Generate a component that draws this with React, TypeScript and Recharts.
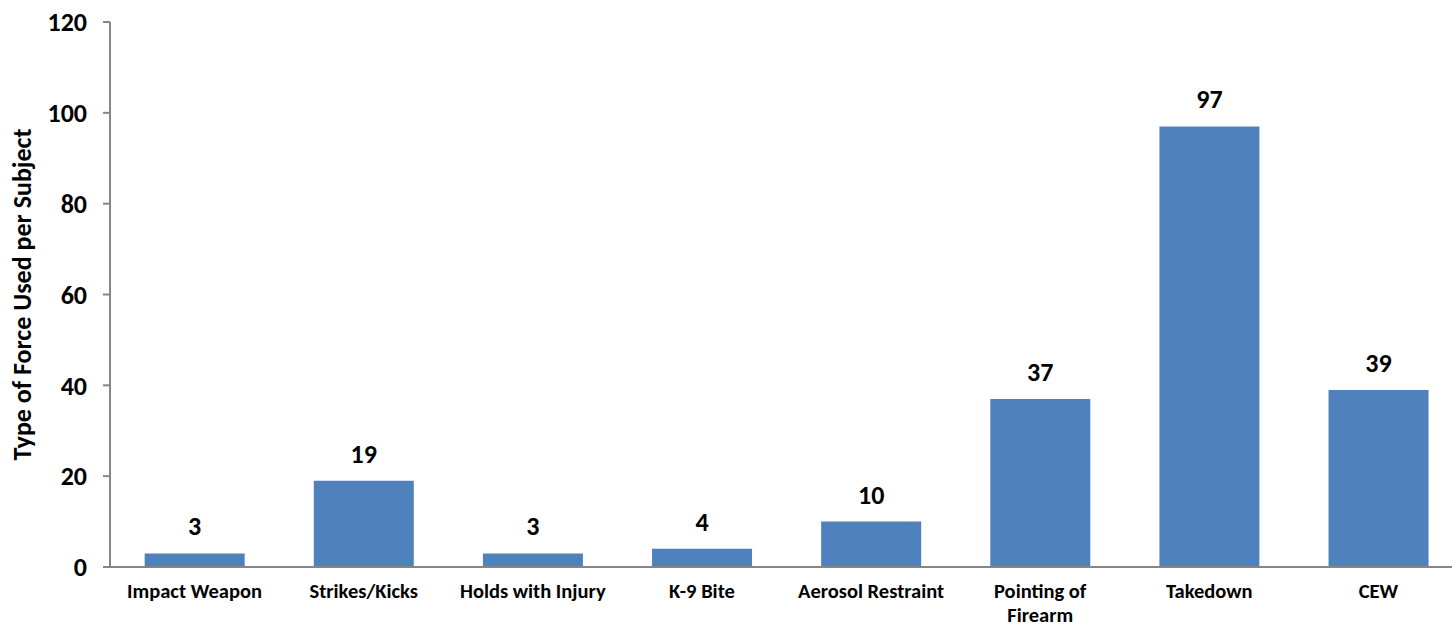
import React from "react";
import { BarChart, Bar, XAxis, YAxis, LabelList } from "recharts";

const categories = [
  "Impact Weapon",
  "Strikes/Kicks",
  "Holds with Injury",
  "K-9 Bite",
  "Aerosol Restraint",
  "Pointing of Firearm",
  "Takedown",
  "CEW",
];
const counts = [3, 19, 3, 4, 10, 37, 97, 39];
const yTicks = [0, 20, 40, 60, 80, 100, 120];
const yAxisTitle = "Type of Force Used per Subject";

const data = categories.map((c, i) => ({ name: c, value: counts[i] }));

const FONT = "Carlito, Lato, 'Open Sans', sans-serif";
const AXIS = "#868686";
const BAR = "#4F81BD";

const wrapLabel = (s: string): string[] => {
  if (s.length <= 18) return [s];
  const idx = s.lastIndexOf(" ");
  return [s.slice(0, idx), s.slice(idx + 1)];
};

const XTick = (props: any) => {
  const { x, y, payload } = props;
  const lines = wrapLabel(String(payload.value));
  return (
    <text
      x={x}
      y={y}
      textAnchor="middle"
      fontFamily={FONT}
      fontWeight={700}
      fontSize={20.5}
      fill="#000"
    >
      {lines.map((l, i) => (
        <tspan key={i} x={x} dy={i === 0 ? "0.85em" : 24}>
          {l}
        </tspan>
      ))}
    </text>
  );
};

const YTitle = (props: any) => {
  const vb = props.viewBox || {};
  const cy = vb.y + vb.height / 2;
  return (
    <text
      x={22}
      y={cy}
      transform={`rotate(-90, 22, ${cy})`}
      textAnchor="middle"
      dominantBaseline="central"
      fontFamily={FONT}
      fontWeight={700}
      fontSize={26}
      fill="#000"
    >
      {yAxisTitle}
    </text>
  );
};

export default function App() {
  return (
    <div
      style={{
        position: "absolute",
        left: 0,
        top: 0,
        width: 1452,
        height: 628,
        overflow: "hidden",
        background: "#fff",
      }}
    >
      <BarChart
        width={1470}
        height={628}
        data={data}
        margin={{ top: 22, right: 7, bottom: 0, left: 0 }}
        barCategoryGap="20.5%"
      >
        <XAxis
          dataKey="name"
          interval={0}
          height={61}
          tickLine={false}
          axisLine={{ stroke: AXIS, strokeWidth: 2 }}
          tick={<XTick />}
          tickMargin={8}
        />
        <YAxis
          width={110}
          domain={[0, 120]}
          ticks={yTicks}
          interval={0}
          tickSize={7}
          tickMargin={16}
          tickLine={{ stroke: AXIS, strokeWidth: 2 }}
          axisLine={{ stroke: AXIS, strokeWidth: 2 }}
          tick={{ fill: "#000", fontFamily: FONT, fontWeight: 700, fontSize: 26 }}
          label={<YTitle />}
        />
        <Bar dataKey="value" fill={BAR} isAnimationActive={false}>
          <LabelList
            dataKey="value"
            position="top"
            offset={18}
            fill="#000"
            fontFamily={FONT}
            fontWeight={700}
            fontSize={26}
          />
        </Bar>
      </BarChart>
    </div>
  );
}
